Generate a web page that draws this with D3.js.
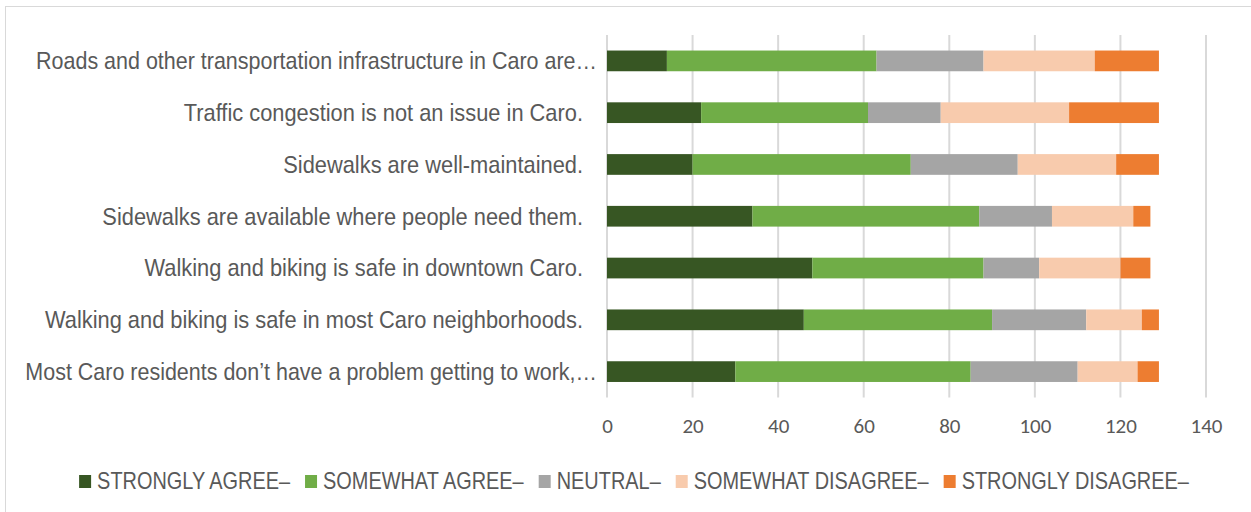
<!DOCTYPE html>
<html>
<head>
<meta charset="utf-8">
<style>
  body { margin: 0; background: #fff; }
  svg { display: block; }
</style>
</head>
<body>
<svg width="1251" height="512"></svg>
<script src="https://cdn.jsdelivr.net/npm/d3@7"></script>
<script>
// survey statements, top to bottom
var statements = [
  "Roads and other transportation infrastructure in Caro are…",
  "Traffic congestion is not an issue in Caro.",
  "Sidewalks are well-maintained.",
  "Sidewalks are available where people need them.",
  "Walking and biking is safe in downtown Caro.",
  "Walking and biking is safe in most Caro neighborhoods.",
  "Most Caro residents don’t have a problem getting to work,…"
]
var seriesNames = ["STRONGLY AGREE–", "SOMEWHAT AGREE–", "NEUTRAL–", "SOMEWHAT DISAGREE–", "STRONGLY DISAGREE–"]
var seriesColors = ["#375623", "#70AD47", "#A5A5A5", "#F8CBAD", "#ED7D31"]

// counts per response, same order as statements
var stronglyAgree    = [14, 22, 20, 34, 48, 46, 30]
var somewhatAgree    = [49, 39, 51, 53, 40, 44, 55]
var neutral          = [25, 17, 25, 17, 13, 22, 25]
var somewhatDisagree = [26, 30, 23, 19, 19, 13, 14]
var stronglyDisagree = [15, 21, 10,  4,  7,  4,  5]

var xTicks = [0, 20, 40, 60, 80, 100, 120, 140]

var rows = statements.map(function (s, i) {
  return {
    label: s,
    v0: stronglyAgree[i], v1: somewhatAgree[i], v2: neutral[i],
    v3: somewhatDisagree[i], v4: stronglyDisagree[i]
  }
})
var keys = ["v0", "v1", "v2", "v3", "v4"]

var svg = d3.select("svg")
// no narrow font installed, so squeeze the regular one a bit
var labelFont = "'Liberation Sans', Arial, sans-serif"
var textColor = "#595959"

// chart frame (only top and left edges fall inside the picture)
svg.append("rect")
  .attr("x", 5.5).attr("y", 6.5)
  .attr("width", 1300).attr("height", 600)
  .attr("fill", "none").attr("stroke", "#D9D9D9")

var x = d3.scaleLinear().domain([0, 140]).range([607, 1206])
var y = d3.scaleBand().domain(statements).range([35, 397.5]).paddingInner(0.6).paddingOuter(0.3)

// gridlines
svg.append("g")
  .selectAll("line").data(xTicks).enter().append("line")
  .attr("x1", function (d) { return x(d) }).attr("x2", function (d) { return x(d) })
  .attr("y1", 35).attr("y2", 397.5)
  .attr("stroke", "#D9D9D9").attr("stroke-width", 2)

// stacked bars
var stack = d3.stack().keys(keys)(rows)
svg.append("g")
  .selectAll("g").data(stack).enter().append("g")
  .attr("fill", function (d, i) { return seriesColors[i] })
  .selectAll("rect").data(function (d) { return d }).enter().append("rect")
  .attr("x", function (d) { return x(d[0]) })
  .attr("width", function (d) { return x(d[1]) - x(d[0]) })
  .attr("y", function (d) { return y(d.data.label) })
  .attr("height", y.bandwidth())

// category labels (truncated ones are a touch narrower in the original)
svg.append("g")
  .selectAll("text").data(statements).enter().append("text")
  .attr("transform", function (d) {
    var cut = d.slice(-1) === "…"
    return "translate(" + (cut ? 597 : 583) + "," + (y(d) + y.bandwidth() / 2) + ") scale(" + (cut ? 0.895 : 0.91) + ",1)"
  })
  .attr("dy", "0.35em")
  .attr("text-anchor", "end")
  .attr("font-family", labelFont)
  .attr("font-size", 24)
  .attr("fill", textColor)
  .text(function (d) { return d })

// x axis
var xAxis = svg.append("g")
  .attr("transform", "translate(0,408)")
  .call(d3.axisBottom(x).tickValues(xTicks).tickSize(0).tickPadding(10))
xAxis.select(".domain").remove()
xAxis.selectAll("text")
  .attr("font-family", "Carlito, 'Open Sans', Lato, sans-serif")
  .attr("font-size", 21)
  .attr("fill", textColor)

// legend
var legendScale = 0.83
var legend = svg.append("g").attr("transform", "translate(0,481)")
var items = legend.selectAll("g").data(seriesNames).enter().append("g")
items.append("rect")
  .attr("y", -6).attr("width", 12).attr("height", 13)
  .attr("fill", function (d, i) { return seriesColors[i] })
items.append("text")
  .attr("transform", "translate(18,0) scale(" + legendScale + ",1)")
  .attr("dy", "0.35em")
  .attr("font-family", labelFont)
  .attr("font-size", 24)
  .attr("fill", textColor)
  .text(function (d) { return d })
var pos = 0
var offsets = []
items.each(function () {
  offsets.push(pos)
  var w = d3.select(this).select("text").node().getComputedTextLength() * legendScale
  pos += 18 + w + 15
})
var start = 634 - (pos - 15) / 2
items.attr("transform", function (d, i) { return "translate(" + (start + offsets[i]) + ",0)" })
</script>
</body>
</html>
